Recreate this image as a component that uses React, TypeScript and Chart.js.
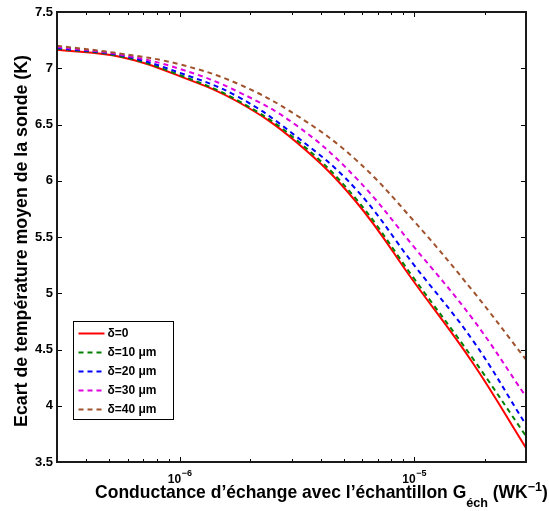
import { useEffect, useRef } from 'react';
import { Chart, registerables } from 'chart.js';

Chart.register(...registerables);

// Conductance d'échange G_éch (W/K), roughly every quarter decade
const gValues = [3e-7, 5.62e-7, 1e-6, 1.78e-6, 3.16e-6, 5.62e-6, 1e-5, 1.78e-5, 3e-5];
// Ecart de température moyen (K)
const delta0 = [7.165, 7.1, 6.93, 6.7, 6.34, 5.82, 5.1, 4.38, 3.625];
const delta10 = [7.175, 7.105, 6.94, 6.71, 6.36, 5.845, 5.13, 4.42, 3.73];
const delta20 = [7.18, 7.115, 6.96, 6.745, 6.39, 5.93, 5.25, 4.58, 3.83];
const delta30 = [7.19, 7.12, 6.995, 6.79, 6.49, 6.03, 5.41, 4.77, 4.08];
const delta40 = [7.2, 7.13, 7.035, 6.86, 6.58, 6.19, 5.64, 5.02, 4.41];

const seriesLabels = ['δ=0', 'δ=10 μm', 'δ=20 μm', 'δ=30 μm', 'δ=40 μm'];
const seriesColors = ['#ff0000', '#008000', '#0000ff', '#e000e0', '#a0522d'];
const seriesData = [delta0, delta10, delta20, delta30, delta40];

const yTickValues = [3.5, 4, 4.5, 5, 5.5, 6, 6.5, 7, 7.5];
const xMajorTicks = [1e-6, 1e-5];
const xTickBase = ['10', '10'];
const xTickExp = ['−6', '−5'];
const xMin = 3e-7;
const xMax = 3e-5;

const yTitle = 'Ecart de température moyen de la sonde (K)';
const xTitleMain = 'Conductance d’échange avec l’échantillon G';
const xTitleSub = 'éch';
const xTitleUnit = ' (WK';
const xTitleSup = '−1';
const xTitleEnd = ')';

const FONT = '"Liberation Sans", Arial, Helvetica, sans-serif';

const overlay = {
  id: 'overlay',
  afterDraw(chart: any) {
    const { ctx, chartArea: a, scales } = chart;
    const xs = scales.x;
    const ys = scales.y;
    ctx.save();
    ctx.strokeStyle = '#000';
    ctx.fillStyle = '#000';
    ctx.lineWidth = 1;
    // inward ticks
    ctx.beginPath();
    for (const v of yTickValues) {
      const p = Math.round(ys.getPixelForValue(v)) + 0.5;
      ctx.moveTo(a.left, p); ctx.lineTo(a.left + 5, p);
      ctx.moveTo(a.right, p); ctx.lineTo(a.right - 5, p);
    }
    for (const v of xMajorTicks) {
      const p = Math.round(xs.getPixelForValue(v)) + 0.5;
      ctx.moveTo(p, a.bottom); ctx.lineTo(p, a.bottom - 5);
      ctx.moveTo(p, a.top); ctx.lineTo(p, a.top + 5);
    }
    for (const d of [1e-7, 1e-6, 1e-5]) {
      for (let k = 2; k <= 9; k++) {
        const v = k * d;
        if (v < xMin * 0.999 || v > xMax * 1.001) continue;
        const p = Math.round(xs.getPixelForValue(v)) + 0.5;
        ctx.moveTo(p, a.bottom); ctx.lineTo(p, a.bottom - 3);
        ctx.moveTo(p, a.top); ctx.lineTo(p, a.top + 3);
      }
    }
    ctx.stroke();
    // box
    ctx.lineWidth = 2;
    ctx.strokeStyle = '#1a1a1a';
    ctx.strokeRect(a.left, a.top, a.right - a.left, a.bottom - a.top);

    // x tick labels
    ctx.textBaseline = 'alphabetic';
    ctx.textAlign = 'left';
    ctx.fillStyle = '#000';
    xMajorTicks.forEach((v, i) => {
      const p = xs.getPixelForValue(v);
      ctx.font = `bold 12px ${FONT}`;
      const wb = ctx.measureText(xTickBase[i]).width;
      ctx.font = `bold 9px ${FONT}`;
      const we = ctx.measureText(xTickExp[i]).width;
      const x0 = p - (wb + we) / 2;
      ctx.font = `bold 12px ${FONT}`;
      ctx.fillText(xTickBase[i], x0, a.bottom + 21);
      ctx.font = `bold 9px ${FONT}`;
      ctx.fillText(xTickExp[i], x0 + wb + 0.5, a.bottom + 14);
    });

    // x title
    const targetW = 453;
    const measureTitle = (s: number) => {
      ctx.font = `bold ${s}px ${FONT}`;
      let w = ctx.measureText(xTitleMain).width + ctx.measureText(xTitleUnit).width + ctx.measureText(xTitleEnd).width;
      ctx.font = `bold ${s * 0.72}px ${FONT}`;
      w += ctx.measureText(xTitleSub).width + ctx.measureText(xTitleSup).width;
      return w;
    };
    const s = 16 * targetW / measureTitle(16);
    let tx = 321.5 - measureTitle(s) / 2;
    const by = a.bottom + 36;
    ctx.font = `bold ${s}px ${FONT}`;
    ctx.fillText(xTitleMain, tx, by); tx += ctx.measureText(xTitleMain).width;
    ctx.font = `bold ${s * 0.72}px ${FONT}`;
    ctx.fillText(xTitleSub, tx, by + 9); tx += ctx.measureText(xTitleSub).width;
    ctx.font = `bold ${s}px ${FONT}`;
    ctx.fillText(xTitleUnit, tx, by); tx += ctx.measureText(xTitleUnit).width;
    ctx.font = `bold ${s * 0.72}px ${FONT}`;
    ctx.fillText(xTitleSup, tx, by - 7); tx += ctx.measureText(xTitleSup).width;
    ctx.font = `bold ${s}px ${FONT}`;
    ctx.fillText(xTitleEnd, tx, by);

    // y title
    ctx.font = `bold 16px ${FONT}`;
    const ys16 = 16 * 372 / ctx.measureText(yTitle).width;
    ctx.font = `bold ${ys16}px ${FONT}`;
    ctx.save();
    ctx.translate(27, (a.top + a.bottom) / 2 + 4);
    ctx.rotate(-Math.PI / 2);
    ctx.textAlign = 'center';
    ctx.fillText(yTitle, 0, 0);
    ctx.restore();

    // legend
    const lx = a.left + 16.5;
    const ly = a.top + 309.5;
    const lw = 100;
    const lh = 98;
    ctx.fillStyle = '#fff';
    ctx.fillRect(lx, ly, lw, lh);
    ctx.lineWidth = 1;
    ctx.strokeStyle = '#000';
    ctx.strokeRect(lx, ly, lw, lh);
    ctx.font = `bold 12px ${FONT}`;
    ctx.textBaseline = 'middle';
    ctx.textAlign = 'left';
    chart.data.datasets.forEach((ds: any, i: number) => {
      const ry = ly + 12 + i * 19;
      ctx.beginPath();
      ctx.strokeStyle = ds.borderColor;
      ctx.lineWidth = 2;
      ctx.setLineDash(ds.borderDash || []);
      ctx.moveTo(lx + 5, ry);
      ctx.lineTo(lx + 31, ry);
      ctx.stroke();
      ctx.setLineDash([]);
      ctx.fillStyle = '#000';
      ctx.fillText(ds.label, lx + 34, ry);
    });
    ctx.restore();
  },
};

export default function App() {
  const ref = useRef<HTMLCanvasElement>(null);
  useEffect(() => {
    document.body.style.margin = '0';
    if (!ref.current) return;
    const chart = new Chart(ref.current, {
      type: 'line',
      data: {
        datasets: seriesData.map((vals, i) => ({
          label: seriesLabels[i],
          data: vals.map((y, j) => ({ x: gValues[j], y })),
          borderColor: seriesColors[i],
          backgroundColor: seriesColors[i],
          borderWidth: 2,
          borderDash: i === 0 ? [] : [5, 4],
          pointRadius: 0,
          tension: 0.4,
          fill: false,
          order: 5 - i,
        })),
      },
      options: {
        animation: false,
        responsive: false,
        maintainAspectRatio: false,
        layout: { padding: { top: 12, right: 23, left: 0, bottom: 0 } },
        plugins: { legend: { display: false }, tooltip: { enabled: false } },
        scales: {
          x: {
            type: 'logarithmic',
            min: xMin,
            max: xMax,
            grid: { display: false, drawTicks: false },
            border: { display: false },
            ticks: { display: false },
            afterFit: (sc: any) => { sc.height = 49; },
          },
          y: {
            type: 'linear',
            min: 3.5,
            max: 7.5,
            grid: { display: false, drawTicks: false },
            border: { display: false },
            ticks: {
              stepSize: 0.5,
              padding: 4,
              color: '#000',
              font: { family: FONT, size: 13, weight: 'bold' },
              callback: (v: any) => String(v),
            },
            afterFit: (sc: any) => { sc.width = 57; },
          },
        },
      },
      plugins: [overlay],
    } as any);
    return () => chart.destroy();
  }, []);
  return (
    <div style={{ width: 549, height: 511, background: '#fff' }}>
      <canvas ref={ref} width={549} height={511} style={{ display: 'block' }} />
    </div>
  );
}
